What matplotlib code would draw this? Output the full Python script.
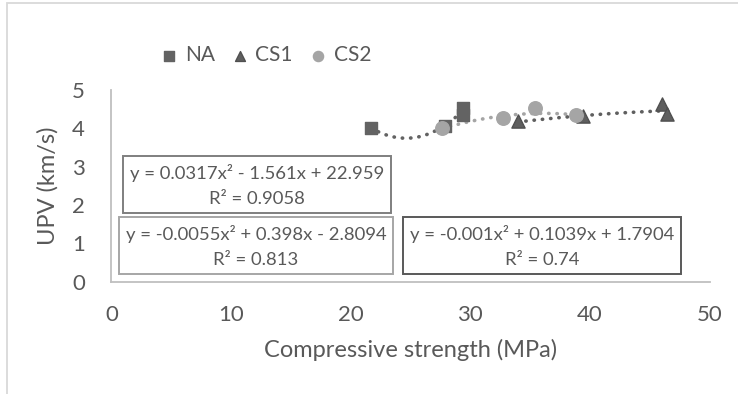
import numpy as np
import matplotlib.pyplot as plt
from matplotlib.patches import Rectangle

plt.rcParams['font.family'] = ['Lato', 'DejaVu Sans']

# data
na_x = [21.7, 27.85, 29.4, 29.4]
na_y = [4.0, 4.05, 4.35, 4.52]
cs1_x = [33.95, 39.45, 46.05, 46.45]
cs1_y = [4.18, 4.33, 4.63, 4.38]
cs2_x = [27.65, 32.7, 35.4, 38.85]
cs2_y = [4.02, 4.27, 4.52, 4.35]

# trendline coefficients (a, b, c) and labels
na_fit = [0.0317, -1.561, 22.959]
cs1_fit = [-0.001, 0.1039, 1.7904]
cs2_fit = [-0.0055, 0.398, -2.8094]
na_eq = ["y = 0.0317x\u00b2 - 1.561x + 22.959", "R\u00b2 = 0.9058"]
cs1_eq = ["y = -0.001x\u00b2 + 0.1039x + 1.7904", "R\u00b2 = 0.74"]
cs2_eq = ["y = -0.0055x\u00b2 + 0.398x - 2.8094", "R\u00b2 = 0.813"]

txt = '#595959'
c_na = '#636363'
c_cs1 = '#5f5f5f'
c_cs2 = '#a5a5a5'

fig = plt.figure(figsize=(7.38, 3.94), dpi=100)
ax = fig.add_axes([0.151, 0.285, 0.8104, 0.4866])

dots = (0, (0.1, 2.2))
for xs, fit, col in [(na_x, na_fit, c_na), (cs2_x, cs2_fit, c_cs2), (cs1_x, cs1_fit, c_cs1)]:
    xx = np.linspace(min(xs), max(xs), 200)
    ax.plot(xx, np.polyval(fit, xx), color=col, lw=2.6, linestyle=dots,
            dash_capstyle='round', zorder=2)

ax.scatter(na_x, na_y, marker='s', s=80, color=c_na, zorder=3, label='NA')
ax.scatter(cs1_x, cs1_y, marker='^', s=90, color=c_cs1, edgecolor='#505050',
           zorder=3, label='CS1')
ax.scatter(cs2_x, cs2_y, marker='o', s=95, color=c_cs2, zorder=3, label='CS2')

ax.set_xlim(0, 50)
ax.set_ylim(0, 5)
ax.set_xticks(range(0, 51, 10))
ax.set_yticks(range(0, 6))
ax.tick_params(length=0, labelsize=16, colors=txt)
ax.tick_params(axis='x', pad=17)
ax.tick_params(axis='y', pad=19)
for s in ['top', 'right']:
    ax.spines[s].set_visible(False)
for s in ['left', 'bottom']:
    ax.spines[s].set_color('#bfbfbf')
    ax.spines[s].set_linewidth(1.3)
ax.set_xlabel("Compressive strength (MPa)", fontsize=17, color=txt, labelpad=10)
ax.set_ylabel("UPV (km/s)", fontsize=17, color=txt, labelpad=10)

leg = fig.legend(loc='center left', bbox_to_anchor=(0.218, 0.86), ncol=3,
                 frameon=False, fontsize=15, handlelength=0.8,
                 handletextpad=0.35, columnspacing=0.8, markerscale=0.75,
                 labelcolor=txt, borderaxespad=0, borderpad=0)

# equation boxes (pixel boxes converted to figure fractions)
W, H = 738, 394
boxes = [
    (123, 156, 391, 213, '#7f7f7f', na_eq),
    (119, 217, 393, 274, '#a6a6a6', cs2_eq),
    (403, 217, 681, 274, '#595959', cs1_eq),
]
for x0, y0, x1, y1, ec, lines in boxes:
    fig.patches.append(Rectangle((x0 / W, 1 - y1 / H), (x1 - x0) / W, (y1 - y0) / H,
                                 transform=fig.transFigure, fill=False,
                                 edgecolor=ec, lw=1.4))
    xc = (x0 + x1) / 2 / W
    fig.text(xc, 1 - (y0 + 17) / H, lines[0], ha='center', va='center',
             fontsize=13.3, color=txt)
    fig.text(xc, 1 - (y0 + 43) / H, lines[1], ha='center', va='center',
             fontsize=13.3, color=txt)

# chart frame
fig.patches.append(Rectangle((7 / W, -0.1), 1.2, 1 - 3 / H + 0.1,
                             transform=fig.transFigure, fill=False,
                             edgecolor='#d9d9d9', lw=1.3))

fig.savefig('out.png', dpi=100)
